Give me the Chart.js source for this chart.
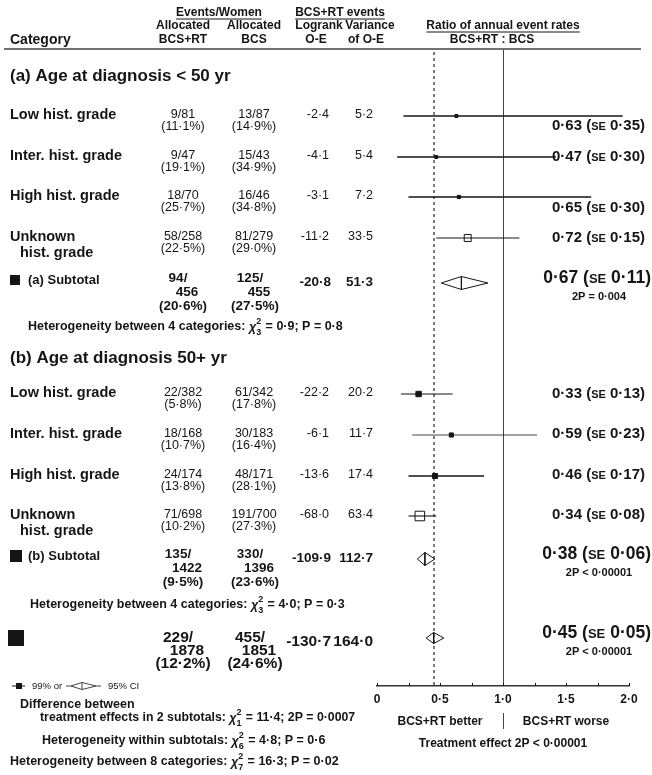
<!DOCTYPE html>
<html>
<head>
<meta charset="utf-8">
<script src="https://cdn.jsdelivr.net/npm/chart.js@4.4.1/dist/chart.umd.min.js"></script>
<style>
  html, body { margin: 0; padding: 0; background: #fff; }
  #wrap { width: 652px; height: 775px; }
</style>
</head>
<body>
<div id="wrap"><canvas id="forest" width="652" height="775"></canvas></div>
<script>
// ---- DATOS DEL GRAFICO ----
const groupTitles = ['(a) Age at diagnosis < 50 yr', '(b) Age at diagnosis 50+ yr']
const categories = ['Low hist. grade', 'Inter. hist. grade', 'High hist. grade', 'Unknown hist. grade']

// (a) menores de 50
const rtEventsA = [9, 9, 18, 58]
const rtWomenA = [81, 47, 70, 258]
const rtPctA = ['11·1', '19·1', '25·7', '22·5']
const bcsEventsA = [13, 15, 16, 81]
const bcsWomenA = [87, 43, 46, 279]
const bcsPctA = ['14·9', '34·9', '34·8', '29·0']
const oeA = [-2.4, -4.1, -3.1, -11.2]
const varA = [5.2, 5.4, 7.2, 33.5]
const ratioA = [0.63, 0.47, 0.65, 0.72]
const seA = [0.35, 0.30, 0.30, 0.15]
const ciLowA = [0.21, 0.16, 0.25, 0.47]
const ciHighA = [1.95, 1.42, 1.70, 1.13]

// (b) 50 o mas
const rtEventsB = [22, 18, 24, 71]
const rtWomenB = [382, 168, 174, 698]
const rtPctB = ['5·8', '10·7', '13·8', '10·2']
const bcsEventsB = [61, 30, 48, 191]
const bcsWomenB = [342, 183, 171, 700]
const bcsPctB = ['17·8', '16·4', '28·1', '27·3']
const oeB = [-22.2, -6.1, -13.6, -68.0]
const varB = [20.2, 11.7, 17.4, 63.4]
const ratioB = [0.33, 0.59, 0.46, 0.34]
const seB = [0.13, 0.23, 0.17, 0.08]
const ciLowB = [0.19, 0.28, 0.25, 0.25]
const ciHighB = [0.60, 1.27, 0.85, 0.47]

// subtotales (a), (b) y total
const sumLabels = ['(a) Subtotal', '(b) Subtotal', '']
const sumRtEvents = [94, 135, 229]
const sumRtWomen = [456, 1422, 1878]
const sumRtPct = ['20·6', '9·5', '12·2']
const sumBcsEvents = [125, 330, 455]
const sumBcsWomen = [455, 1396, 1851]
const sumBcsPct = ['27·5', '23·6', '24·6']
const sumOE = [-20.8, -109.9, -130.7]
const sumVar = [51.3, 112.7, 164.0]
const sumRatio = [0.67, 0.38, 0.45]
const sumSE = [0.11, 0.06, 0.05]
const sumP = ['2P = 0·004', '2P < 0·00001', '2P < 0·00001']
const sumCiLow = [0.51, 0.32, 0.39]
const sumCiHigh = [0.88, 0.46, 0.53]

// textos de heterogeneidad [antes, gl, despues]
const hetA = ['Heterogeneity between 4 categories: ', '3', ' = 0·9; P = 0·8']
const hetB = ['Heterogeneity between 4 categories: ', '3', ' = 4·0; P = 0·3']
const bottomStats = [
  ['treatment effects in 2 subtotals: ', '1', ' = 11·4; 2P = 0·0007'],
  ['Heterogeneity within subtotals: ', '6', ' = 4·8; P = 0·6'],
  ['Heterogeneity between 8 categories: ', '7', ' = 16·3; P = 0·02']
]
const xTickLabels = ['0', '0·5', '1·0', '1·5', '2·0']

// ---- POSICIONES (unidades del eje y) Y ESTILOS ----
const rowPos = [116, 157, 197, 238, 394, 435, 476, 516]
const sumPos = [283, 559, 638]
const groupPos = [76, 358]
const hetPos = [327, 605]
const estShift = [9, -1, 10, -1, -1, -2, -2, -2]
const lineW = [1.6, 1.6, 1.6, 1, 1.1, 0.8, 1.6, 1.1]
const FONT = '"Liberation Sans", Arial, Helvetica, sans-serif'
const INK = '#151515'

const fmt = (v, d) => v.toFixed(d).replace('.', '·')

// ---- UNIR LOS DOS GRUPOS ----
const rtEvents = rtEventsA.concat(rtEventsB)
const rtWomen = rtWomenA.concat(rtWomenB)
const rtPct = rtPctA.concat(rtPctB)
const bcsEvents = bcsEventsA.concat(bcsEventsB)
const bcsWomen = bcsWomenA.concat(bcsWomenB)
const bcsPct = bcsPctA.concat(bcsPctB)
const oe = oeA.concat(oeB)
const vr = varA.concat(varB)
const ratio = ratioA.concat(ratioB)
const se = seA.concat(seB)
const ciLow = ciLowA.concat(ciLowB)
const ciHigh = ciHighA.concat(ciHighB)
const rowCats = categories.concat(categories)

// ---- DATASETS ----
const datasets = []
ciLow.forEach((lo, i) => {
  datasets.push({
    data: [{ x: lo, y: rowPos[i] }, { x: ciHigh[i], y: rowPos[i] }],
    showLine: true, borderColor: INK, borderWidth: lineW[i], pointRadius: 0
  })
})
datasets.push({
  data: ratio.map((r, i) => ({ x: r, y: rowPos[i] })),
  showLine: false,
  pointStyle: 'rect',
  pointRadius: vr.map(v => Math.max(2.1, 0.85 * Math.sqrt(v))),
  pointBackgroundColor: rowCats.map(c => c.startsWith('Unknown') ? '#fff' : INK),
  pointBorderColor: INK,
  pointBorderWidth: 1
})
const halfH = [6.5, 6.5, 5.5]
sumRatio.forEach((r, k) => {
  const y0 = sumPos[k]
  datasets.push({
    data: [
      { x: sumCiLow[k], y: y0 }, { x: r, y: y0 - halfH[k] }, { x: sumCiHigh[k], y: y0 },
      { x: r, y: y0 + halfH[k] }, { x: sumCiLow[k], y: y0 }
    ],
    showLine: true, borderColor: INK, borderWidth: 1, pointRadius: 0, fill: false
  })
  datasets.push({
    data: [{ x: r, y: y0 - halfH[k] }, { x: r, y: y0 + halfH[k] }],
    showLine: true, borderColor: INK, borderWidth: 1, pointRadius: 0
  })
})

// ---- FUNCIONES DE DIBUJO ----
function txt(ctx, s, x, y, font, align) {
  ctx.font = font
  ctx.textAlign = align || 'left'
  ctx.textBaseline = 'middle'
  ctx.fillText(s, x, y)
}

function seg(ctx, x1, y1, x2, y2) {
  ctx.beginPath()
  ctx.moveTo(x1, y1)
  ctx.lineTo(x2, y2)
  ctx.stroke()
}

function underlined(ctx, s, cx, y, font, uy) {
  txt(ctx, s, cx, y, font, 'center')
  const w = ctx.measureText(s).width
  ctx.lineWidth = 1
  seg(ctx, cx - w / 2, uy, cx + w / 2, uy)
}

// valor con "SE" en versalitas, alineado a la derecha
function estimate(ctx, right, y, r, s, size) {
  const big = `bold ${size}px ${FONT}`
  const small = `bold ${Math.round(size * 0.74)}px ${FONT}`
  const a = fmt(r, 2) + ' (', b = 'SE', c = ' ' + fmt(s, 2) + ')'
  ctx.font = big
  const wa = ctx.measureText(a).width, wc = ctx.measureText(c).width
  ctx.font = small
  const wb = ctx.measureText(b).width
  let x = right - wa - wb - wc
  const base = y + size * 0.36
  ctx.textAlign = 'left'
  ctx.textBaseline = 'alphabetic'
  ctx.font = big; ctx.fillText(a, x, base); x += wa
  ctx.font = small; ctx.fillText(b, x, base); x += wb
  ctx.font = big; ctx.fillText(c, x, base)
}

// texto con chi cuadrado y grados de libertad
function chiText(ctx, x, y, parts, size) {
  const f = `bold ${size}px ${FONT}`
  const fs = `bold ${Math.round(size * 0.72)}px ${FONT}`
  ctx.textAlign = 'left'
  ctx.textBaseline = 'middle'
  ctx.font = f; ctx.fillText(parts[0], x, y); x += ctx.measureText(parts[0]).width
  ctx.font = `italic bold ${size}px ${FONT}`; ctx.fillText('χ', x, y + 1); x += ctx.measureText('χ').width
  ctx.font = fs
  ctx.fillText('2', x, y - size * 0.42)
  ctx.fillText(parts[1], x, y + size * 0.48)
  x += ctx.measureText('2').width + 1
  ctx.font = f; ctx.fillText(parts[2], x, y)
}

// ---- PLUGIN: TABLA, LINEAS DE REFERENCIA Y TEXTOS ----
const forestPlugin = {
  id: 'forestTable',
  beforeDatasetsDraw(chart) {
    const { ctx, chartArea, scales: { x } } = chart
    ctx.save()
    ctx.strokeStyle = '#444'
    ctx.lineWidth = 1
    const x1 = Math.round(x.getPixelForValue(1)) + 0.5
    seg(ctx, x1, chartArea.top, x1, chartArea.bottom)
    ctx.setLineDash([3, 3])
    ctx.lineWidth = 1.2
    ctx.strokeStyle = '#222'
    const xd = Math.round(x.getPixelForValue(sumRatio[2]))
    seg(ctx, xd, chartArea.top + 2, xd, chartArea.bottom)
    ctx.restore()
  },
  afterDraw(chart) {
    const { ctx, chartArea, scales: { x, y } } = chart
    ctx.save()
    ctx.fillStyle = INK
    ctx.strokeStyle = INK

    // encabezado
    const hf = `bold 12px ${FONT}`
    txt(ctx, 'Category', 10, 40, `bold 14px ${FONT}`)
    underlined(ctx, 'Events/Women', 219, 13, hf, 19)
    txt(ctx, 'Allocated', 183, 26, hf, 'center')
    txt(ctx, 'Allocated', 254, 26, hf, 'center')
    txt(ctx, 'BCS+RT', 183, 40, hf, 'center')
    txt(ctx, 'BCS', 254, 40, hf, 'center')
    underlined(ctx, 'BCS+RT events', 340, 13, hf, 19)
    txt(ctx, 'Logrank', 319, 26, hf, 'center')
    txt(ctx, 'Variance', 370, 26, hf, 'center')
    txt(ctx, 'O-E', 316, 40, hf, 'center')
    txt(ctx, 'of O-E', 366, 40, hf, 'center')
    underlined(ctx, 'Ratio of annual event rates', 503, 26, hf, 32)
    txt(ctx, 'BCS+RT : BCS', 492, 40, hf, 'center')
    ctx.strokeStyle = '#444'
    ctx.lineWidth = 1.5
    seg(ctx, 4, 49, 641, 49)
    ctx.strokeStyle = INK

    // titulos de grupo
    groupTitles.forEach((g, k) => txt(ctx, g, 10, y.getPixelForValue(groupPos[k]), `bold 17px ${FONT}`))

    // filas por categoria
    const lf = `bold 14.5px ${FONT}`
    const nf = `12.5px ${FONT}`
    rowCats.forEach((cat, i) => {
      const yy = y.getPixelForValue(rowPos[i])
      if (cat.startsWith('Unknown')) {
        txt(ctx, 'Unknown', 10, yy - 1, lf)
        txt(ctx, 'hist. grade', 20, yy + 15, lf)
      } else {
        txt(ctx, cat, 10, yy - 1, lf)
      }
      txt(ctx, `${rtEvents[i]}/${rtWomen[i]}`, 183, yy - 1, nf, 'center')
      txt(ctx, `(${rtPct[i]}%)`, 183, yy + 11, nf, 'center')
      txt(ctx, `${bcsEvents[i]}/${bcsWomen[i]}`, 254, yy - 1, nf, 'center')
      txt(ctx, `(${bcsPct[i]}%)`, 254, yy + 11, nf, 'center')
      txt(ctx, fmt(oe[i], 1), 329, yy - 1, nf, 'right')
      txt(ctx, fmt(vr[i], 1), 373, yy - 1, nf, 'right')
      estimate(ctx, 645, yy + estShift[i], ratio[i], se[i], 15)
    })

    // subtotales y total
    const sqSize = [10, 12, 16]
    sumRatio.forEach((r, k) => {
      const yy = y.getPixelForValue(sumPos[k])
      const tot = k === 2
      const bf = `bold ${tot ? 15.5 : 13.5}px ${FONT}`
      const sy = tot ? yy : yy - 3
      ctx.fillRect(tot ? 8 : 10, sy - sqSize[k] / 2, sqSize[k], sqSize[k])
      if (sumLabels[k]) txt(ctx, sumLabels[k], 28, yy - 3, `bold 13px ${FONT}`)
      const l1 = tot ? yy : yy - 5, l2 = tot ? yy + 13 : yy + 9, l3 = tot ? yy + 26 : yy + 23
      txt(ctx, `${sumRtEvents[k]}/`, 178, l1, bf, 'center')
      txt(ctx, `${sumRtWomen[k]}`, 187, l2, bf, 'center')
      txt(ctx, `(${sumRtPct[k]}%)`, 183, l3, bf, 'center')
      txt(ctx, `${sumBcsEvents[k]}/`, 250, l1, bf, 'center')
      txt(ctx, `${sumBcsWomen[k]}`, 259, l2, bf, 'center')
      txt(ctx, `(${sumBcsPct[k]}%)`, 255, l3, bf, 'center')
      txt(ctx, fmt(sumOE[k], 1), 331, tot ? yy + 4 : yy - 1, bf, 'right')
      txt(ctx, fmt(sumVar[k], 1), 373, tot ? yy + 4 : yy - 1, bf, 'right')
      estimate(ctx, 651, yy - 6, r, sumSE[k], 17.5)
      txt(ctx, sumP[k], 599, yy + 14, `bold 11px ${FONT}`, 'center')
    })

    // heterogeneidad
    chiText(ctx, 28, y.getPixelForValue(hetPos[0]), hetA, 12.5)
    chiText(ctx, 30, y.getPixelForValue(hetPos[1]), hetB, 12.5)

    // marcas menores del eje x
    ctx.lineWidth = 1
    for (let v = 0; v <= 2.001; v += 0.25) {
      const px = Math.round(x.getPixelForValue(v)) + 0.5
      seg(ctx, px, chartArea.bottom, px, chartArea.bottom - 3)
    }

    // textos bajo el eje
    const bf12 = `bold 12px ${FONT}`
    txt(ctx, 'BCS+RT better', x.getPixelForValue(0.5), 722, bf12, 'center')
    txt(ctx, 'BCS+RT worse', x.getPixelForValue(1.5), 722, bf12, 'center')
    const x1 = Math.round(x.getPixelForValue(1)) + 0.5
    ctx.strokeStyle = '#444'
    seg(ctx, x1, 713, x1, 729)
    ctx.strokeStyle = INK
    txt(ctx, 'Treatment effect 2P < 0·00001', x.getPixelForValue(1), 744, bf12, 'center')

    // leyenda
    const ly = 686
    seg(ctx, 12, ly, 25, ly)
    ctx.fillRect(16, ly - 3, 6, 6)
    txt(ctx, '99% or', 32, ly, `9.5px ${FONT}`)
    ctx.lineWidth = 0.8
    seg(ctx, 66, ly, 71, ly)
    seg(ctx, 96, ly, 101, ly)
    ctx.beginPath()
    ctx.moveTo(71, ly); ctx.lineTo(82, ly - 3.5); ctx.lineTo(96, ly); ctx.lineTo(82, ly + 3.5); ctx.closePath()
    ctx.stroke()
    seg(ctx, 82, ly - 3.5, 82, ly + 3.5)
    txt(ctx, '95% CI', 108, ly, `9.5px ${FONT}`)

    // estadisticas finales
    txt(ctx, 'Difference between', 20, 705, `bold 12.5px ${FONT}`)
    chiText(ctx, 40, 718, bottomStats[0], 12.3)
    chiText(ctx, 42, 741, bottomStats[1], 12.5)
    chiText(ctx, 10, 762, bottomStats[2], 12.5)
    ctx.restore()
  }
}

// ---- CREAR EL GRAFICO ----
const grafico = new Chart(document.getElementById('forest'), {
  type: 'scatter',
  data: { datasets: datasets },
  options: {
    responsive: false,
    animation: false,
    devicePixelRatio: 1,
    layout: { padding: { left: 377, right: 23, top: 50, bottom: 59 } },
    elements: { line: { tension: 0 } },
    plugins: { legend: { display: false }, tooltip: { enabled: false } },
    scales: {
      x: {
        type: 'linear',
        position: 'bottom',
        min: 0,
        max: 2,
        grid: { display: false, drawTicks: false },
        border: { display: true, color: '#333', width: 1.5 },
        ticks: {
          stepSize: 0.5,
          padding: 6,
          color: INK,
          font: { family: FONT, size: 12, weight: 'bold' },
          callback: (v, i) => xTickLabels[i]
        },
        afterFit: (scale) => { scale.height = 30 }
      },
      y: { type: 'linear', display: false, min: 50, max: 686, reverse: true }
    }
  },
  plugins: [forestPlugin]
})
</script>
</body>
</html>
